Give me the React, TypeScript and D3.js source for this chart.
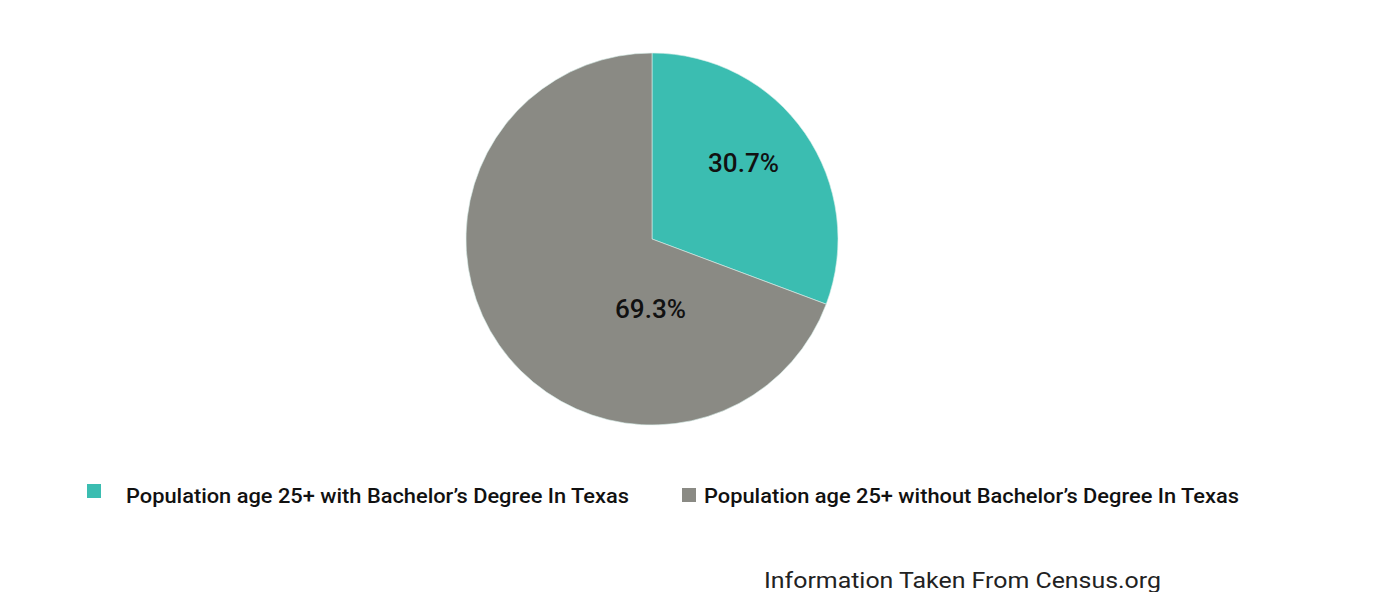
import React from "react";
import * as d3 from "d3";

const categories = [
  "Population age 25+ with Bachelor’s Degree In Texas",
  "Population age 25+ without Bachelor’s Degree In Texas",
];
const values = [30.7, 69.3];
const labels = ["30.7%", "69.3%"];
const colors = ["#3bbdb1", "#8a8a84"];
const footer = "Information Taken From Census.org";

const W = 1379;
const H = 592;

export default function App() {
  const cx = 652;
  const cy = 239;
  const r = 186;
  const pie = d3.pie<number>().sort(null).value((d) => d)(values);
  const arc = d3.arc<d3.PieArcDatum<number>>().innerRadius(0).outerRadius(r);
  const labelOffsets = [
    [91.5, -67],
    [-1.5, 79],
  ];
  const legendX = [87, 682];
  const legendSqY = [484, 488];
  const legendTextX = [126, 704];
  const legendTextLen = [503, 535];
  return (
    <div style={{ position: "absolute", left: 0, top: 0 }}>
      <svg width={W} height={H} style={{ display: "block", background: "#fff" }}>
        <g transform={`translate(${cx},${cy})`}>
          {pie.map((p, i) => (
            <path key={i} d={arc(p) || ""} fill={colors[i]} stroke="#d8efe9" strokeWidth={0.6} />
          ))}
          {pie.map((p, i) => (
            <text
              key={"l" + i}
              x={labelOffsets[i][0] - 35.5}
              y={labelOffsets[i][1]}
              textLength={71}
              lengthAdjust="spacingAndGlyphs"
              fontFamily="Roboto"
              fontWeight={500}
              fontSize={25}
              fill="#111"
            >
              {labels[i]}
            </text>
          ))}
        </g>
        {categories.map((c, i) => (
          <g key={"lg" + i}>
            <rect x={legendX[i]} y={legendSqY[i]} width={14} height={14} fill={colors[i]} />
            <text
              x={legendTextX[i]}
              y={503}
              textLength={legendTextLen[i]}
              lengthAdjust="spacingAndGlyphs"
              fontFamily="Roboto"
              fontWeight={500}
              fontSize={20}
              fill="#111"
            >
              {c}
            </text>
          </g>
        ))}
        <text
          x={764}
          y={588}
          textLength={397}
          lengthAdjust="spacingAndGlyphs"
          fontFamily="Roboto"
          fontSize={22}
          fill="#222"
        >
          {footer}
        </text>
      </svg>
    </div>
  );
}
